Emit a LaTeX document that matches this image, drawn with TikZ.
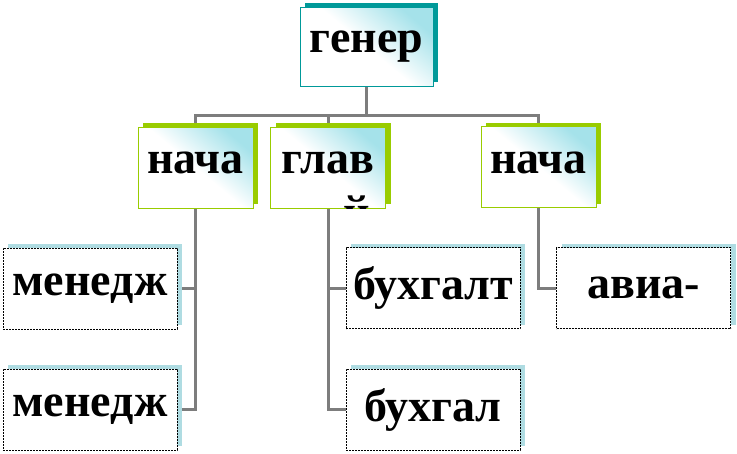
\documentclass[tikz,border=0pt]{standalone}
\usepackage{fontspec}
\setmainfont{Liberation Serif}
\usetikzlibrary{shadows,backgrounds}
\definecolor{birk}{RGB}{0,153,153}
\definecolor{salat}{RGB}{153,204,0}
\definecolor{goluboy}{RGB}{175,220,226}
\definecolor{zaliv}{RGB}{165,226,234}
\definecolor{seryy}{RGB}{125,125,125}
\tikzset{
  blok/.style={inner sep=0pt,font=\fontsize{46}{50}\selectfont\bfseries},
  gen/.style={blok,draw=birk,line width=1pt,minimum width=133pt,minimum height=79pt,
    top color=zaliv,bottom color=white,middle color=white,shading angle=-40,
    general shadow={fill=birk,shadow xshift=5pt,shadow yshift=4pt}},
  nach/.style={blok,draw=salat,line width=1pt,minimum width=115pt,minimum height=81pt,
    text height=21pt,text depth=9pt,
    top color=zaliv,bottom color=white,middle color=white,shading angle=-40,
    general shadow={fill=salat,shadow xshift=5pt,shadow yshift=4pt}},
  otdel/.style={blok,draw=black,line width=0.8pt,dash pattern=on 2pt off 1pt,fill=white,
    minimum width=174pt,minimum height=81pt,
    general shadow={fill=goluboy,shadow xshift=5pt,shadow yshift=4pt,solid}},
  link/.style={draw=seryy,line width=3pt}
}
\begin{document}
\begin{tikzpicture}[x=1pt,y=-1pt]
\useasboundingbox (0,0) rectangle (737,453);
%Верхний блок
\node[gen] (gen) at (366.5,46.5) {генер};
%Второй уровень
\node[nach] (n1) at (195.5,167.5) {нача};
\node[nach] (n2) at (328,167.5) {глав};
\node[nach] (n3) at (538.5,167) {нача};
\begin{scope}
\clip (n2.north west) rectangle (n2.south east);
\node[blok,anchor=base] (n2tail) at (357,227) {й};%хвост второй строки
\end{scope}
%Третий уровень
\node[otdel] (m1) at (90,288.5) {менедж};
\node[otdel] (m2) at (90,409.5) {менедж};
\node[otdel] (b1) at (433,288) {бухгалт};
\node[otdel] (b2) at (433,409.5) {бухгал};
\node[otdel] (a1) at (643.5,288) {авиа-};
%Соединительные линии
\begin{pgfonlayer}{background}
\path (gen.south) ++(0,29) coordinate (bus);
\draw[link] (gen.south) -- (bus);
\draw[link] (bus) -| (n1.north);
\draw[link] (bus) -| (n2.north);
\draw[link] (bus) -| (n3.north);
\draw[link] (n1.south) |- (m1.east);
\draw[link] (n1.south) |- (m2.east);
\draw[link] (n2.south) |- (b1.west);
\draw[link] (n2.south) |- (b2.west);
\draw[link] (n3.south) |- (a1.west);
\end{pgfonlayer}
\end{tikzpicture}
\end{document}
